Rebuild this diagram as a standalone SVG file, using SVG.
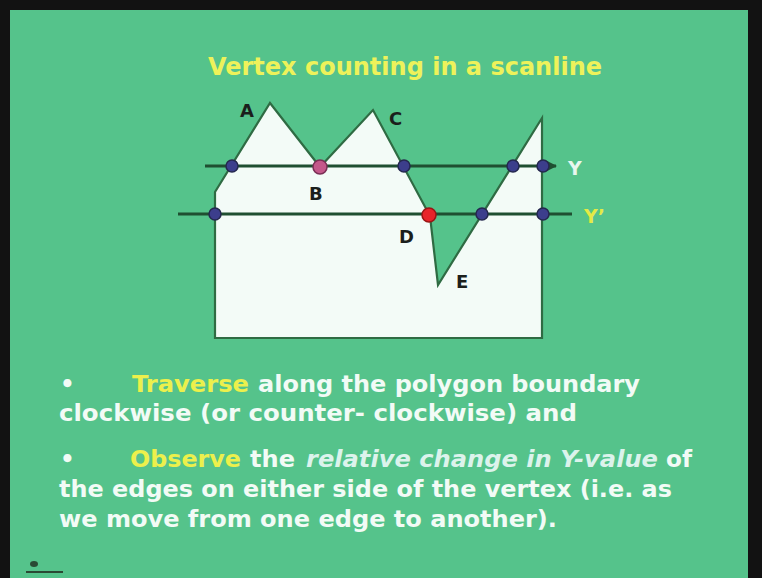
<svg xmlns="http://www.w3.org/2000/svg" width="762" height="578" viewBox="0 0 762 578">
  <defs>
    <style>
      .t { font-family: "DejaVu Sans", Verdana, sans-serif; font-weight: bold; }
      .body { font-size: 23px; fill: #f2fbf6; }
      .yel { fill: #ecf04c; }
      .ital { font-style: italic; fill: #dcf3ec; }
      .lbl { font-size: 18px; fill: #1b1f1c; }
      .scan { stroke: #1f4f31; stroke-width: 3; fill: none; }
      .dot { fill: #3c3e8c; stroke: #25284f; stroke-width: 1.5; }
    </style>
    <marker id="arr" viewBox="0 0 10 10" refX="9" refY="5" markerWidth="4" markerHeight="4" orient="auto" markerUnits="strokeWidth">
      <path d="M0,0 L10,5 L0,10 Z" fill="#1f4f31"/>
    </marker>
  </defs>

  <rect x="0" y="0" width="762" height="578" fill="#121212"/>
  <rect x="10" y="10" width="738" height="568" fill="#55c38b"/>

  <text id="title" class="t" x="208" y="75" font-size="25" fill="#eef25a" textLength="394" lengthAdjust="spacingAndGlyphs">Vertex counting in a scanline</text>

  <g id="polygon">
    <path d="M215,338 L215,192 L270,103 L320,167 L373,110 L430,216 L438,285 L542,118 L542,338 Z" fill="#f3fbf7" stroke="#2f6b43" stroke-width="2.2" stroke-linejoin="miter"/>
  </g>

  <g id="connectors">
    <line class="scan" x1="205" y1="166" x2="556" y2="166" marker-end="url(#arr)"/>
    <line class="scan" x1="178" y1="214" x2="572" y2="214"/>
  </g>

  <g id="dots">
    <circle class="dot" cx="232" cy="166" r="6"/>
    <circle cx="320" cy="167" r="7" fill="#c4588a" stroke="#7a2f55" stroke-width="1.5"/>
    <circle class="dot" cx="404" cy="166" r="6"/>
    <circle class="dot" cx="513" cy="166" r="6"/>
    <circle class="dot" cx="543" cy="166" r="6"/>
    <circle class="dot" cx="215" cy="214" r="6"/>
    <circle cx="429" cy="215" r="7" fill="#e8242a" stroke="#9a1515" stroke-width="1.5"/>
    <circle class="dot" cx="482" cy="214" r="6"/>
    <circle class="dot" cx="543" cy="214" r="6"/>
  </g>

  <g id="labels">
    <text id="lA" class="t lbl" x="240" y="117">A</text>
    <text id="lB" class="t lbl" x="309" y="200">B</text>
    <text id="lC" class="t lbl" x="389" y="125">C</text>
    <text id="lD" class="t lbl" x="399" y="243">D</text>
    <text id="lE" class="t lbl" x="456" y="288">E</text>
    <text id="lY" class="t" x="568" y="175" font-size="19" fill="#e8f7ef">Y</text>
    <text id="lY2" class="t" x="584" y="223" font-size="19" fill="#e4ea45">Y’</text>
  </g>

  <g id="bullets">
    <text class="t body" x="60" y="392">•</text>
    <text class="t body yel" x="132" y="392" textLength="117" lengthAdjust="spacingAndGlyphs">Traverse</text>
    <text class="t body" x="258" y="392" textLength="382" lengthAdjust="spacingAndGlyphs">along the polygon boundary</text>
    <text class="t body" x="59" y="421" textLength="518" lengthAdjust="spacingAndGlyphs">clockwise (or counter- clockwise) and</text>

    <text class="t body" x="60" y="467">•</text>
    <text class="t body yel" x="130" y="467" textLength="111" lengthAdjust="spacingAndGlyphs">Observe</text>
    <text class="t body" x="250" y="467" textLength="45" lengthAdjust="spacingAndGlyphs">the</text>
    <text class="t body ital" x="306" y="467" textLength="352" lengthAdjust="spacingAndGlyphs">relative change in Y-value</text>
    <text class="t body" x="666" y="467" textLength="26" lengthAdjust="spacingAndGlyphs">of</text>
    <text class="t body" x="59" y="497" textLength="613" lengthAdjust="spacingAndGlyphs">the edges on either side of the vertex (i.e. as</text>
    <text class="t body" x="59" y="527" textLength="498" lengthAdjust="spacingAndGlyphs">we move from one edge to another).</text>
  </g>

  <g id="logo">
    <ellipse cx="34" cy="564" rx="4" ry="3" fill="#2a4a34"/>
    <line x1="26" y1="572" x2="63" y2="572" stroke="#2a4a34" stroke-width="2"/>
  </g>
</svg>
